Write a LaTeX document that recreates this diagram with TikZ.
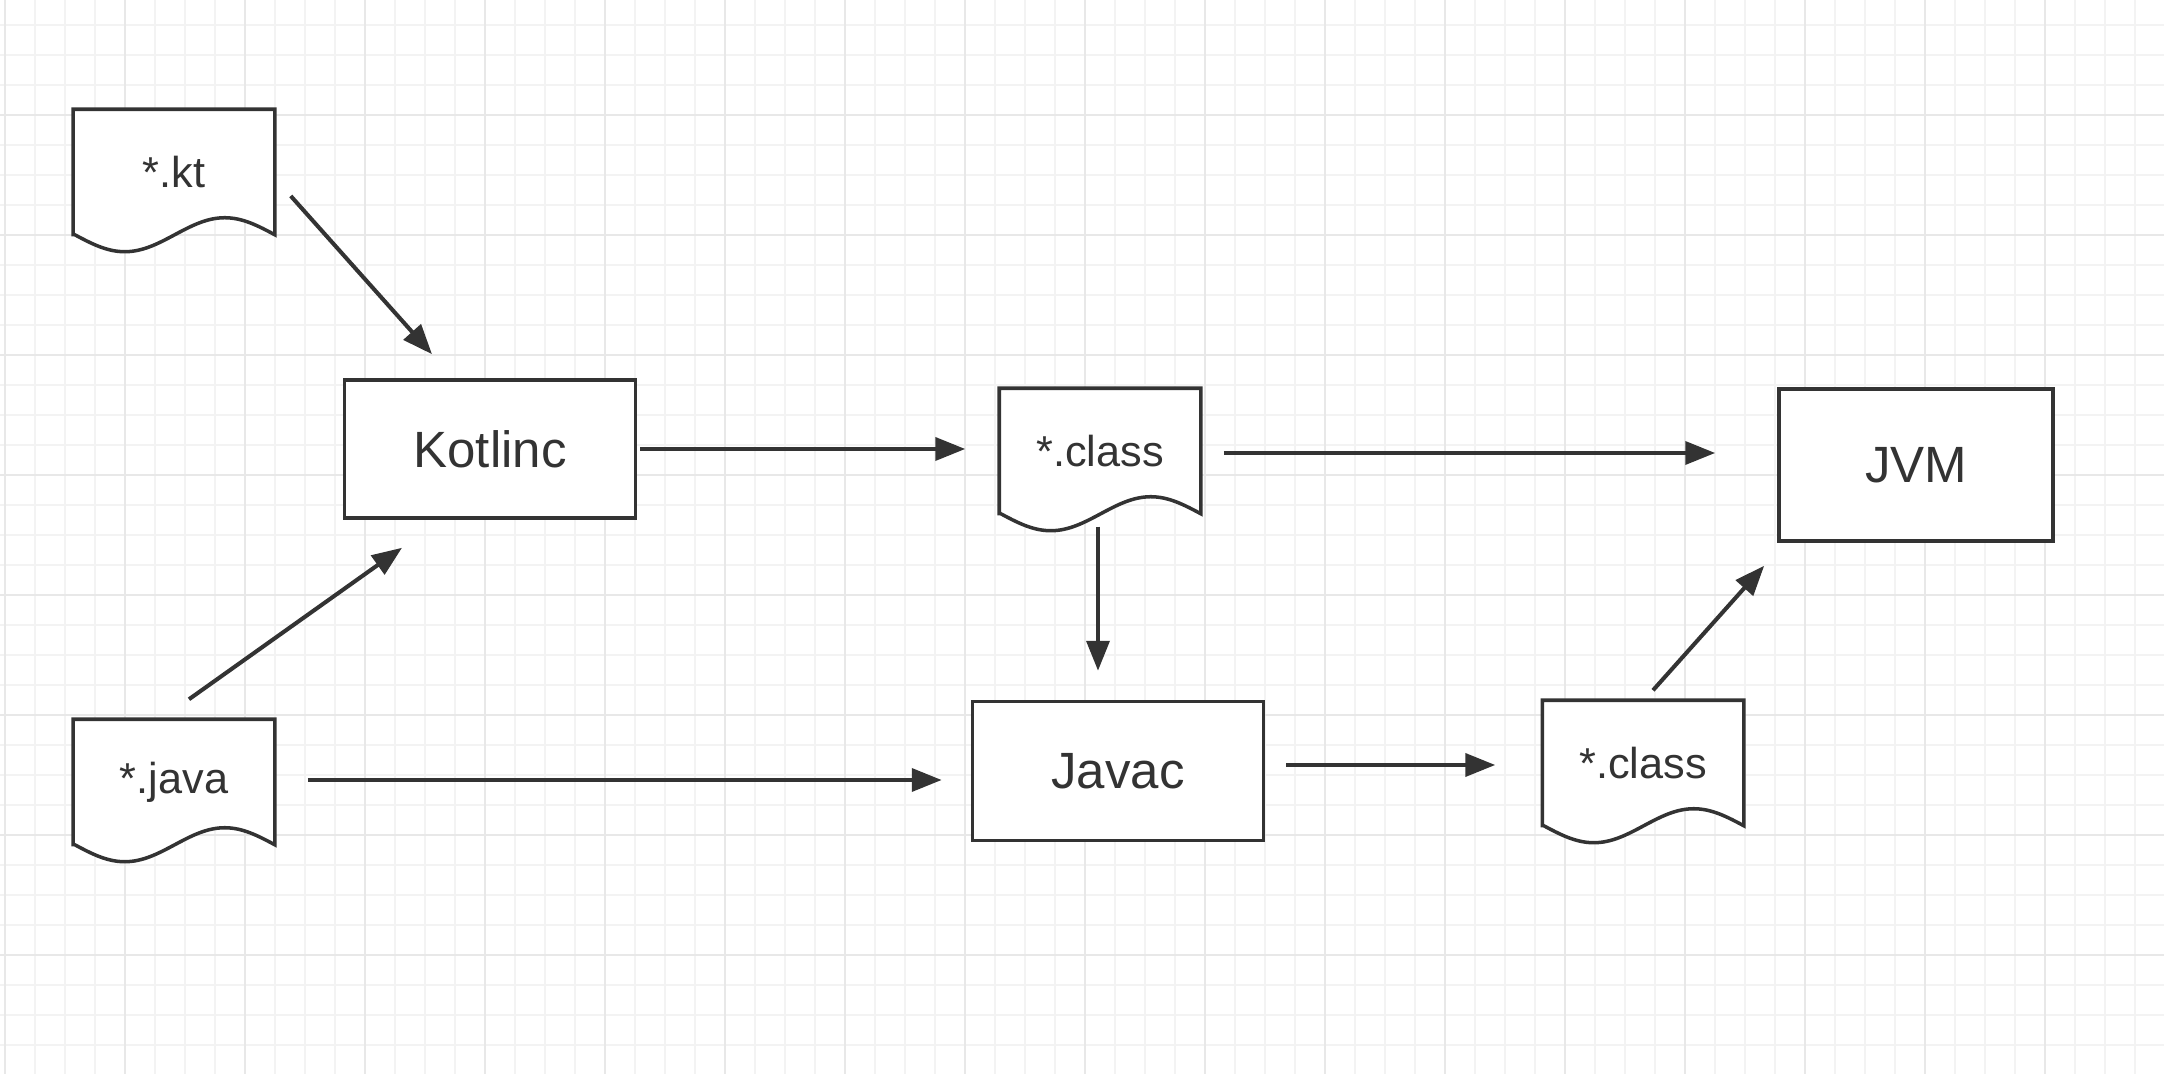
\documentclass[tikz,border=0pt]{standalone}
\usepackage{fontspec}
\setmainfont{Liberation Sans}
\usetikzlibrary{arrows.meta,backgrounds}
\definecolor{ink}{HTML}{333333}
\definecolor{gridminor}{HTML}{F3F3F3}
\definecolor{gridmajor}{HTML}{E8E8E8}
\begin{document}
\begin{tikzpicture}[x=0.01cm, y=-0.01cm,
block/.style = {rectangle, draw=ink, fill=white, line width=1pt, text=ink,
  font=\fontsize{14.5}{17}\selectfont},
doc/.style = {rectangle, inner sep=0pt, minimum width=2cm, minimum height=1.24cm,
  text=ink, font=\fontsize{12.3}{15}\selectfont},
docline/.style = {draw=ink, fill=white, line width=1pt, line join=miter},
flow/.style = {-{Triangle[length=8.5pt,width=6.5pt]}, draw=ink, line width=1.15pt}]
\useasboundingbox (0,0) rectangle (2164,1074);
\begin{scope}[on background layer]
  \fill[white] (0,0) rectangle (2164,1074);
  \foreach \gx in {5,35,...,2164} \draw[gridminor, line width=0.4pt] (\gx,0) -- (\gx,1074);
  \foreach \gy in {25,55,...,1074} \draw[gridminor, line width=0.4pt] (0,\gy) -- (2164,\gy);
  \foreach \gx in {5,125,...,2164} \draw[gridmajor, line width=0.7pt] (\gx,0) -- (\gx,1074);
  \foreach \gy in {115,235,...,1074} \draw[gridmajor, line width=0.7pt] (0,\gy) -- (2164,\gy);
\end{scope}
% sources
\node[doc] at (174,172) (kt) {*.kt};
\node[doc] at (174,782) (java) {*.java};
% compilers
\node[block, minimum width=2.91cm, minimum height=1.38cm] at (490,449) (kotlinc) {Kotlinc};
\node[block, minimum width=2.91cm, minimum height=1.39cm] at (1118,771) (javac) {Javac};
% outputs
\node[doc] at (1100,451) (clsa) {*.class};
\node[doc] at (1643,763) (clsb) {*.class};
\node[block, minimum width=2.74cm, minimum height=1.52cm] at (1916,465) (jvm) {JVM};
\begin{scope}[on background layer]
  \foreach \d in {kt,java,clsa,clsb}
    \draw[docline] (\d.south west) -- (\d.north west) -- (\d.north east) -- (\d.south east)
      sin ++(-50,-17) cos ++(-50,17) sin ++(-50,17) cos ++(-50,-17) -- cycle;
\end{scope}
\draw [flow] ([shift={(16,24)}]kt.east) -- ([shift={(-58,-24)}]kotlinc.north);
\draw [flow] ([shift={(15,-20)}]java.north) -- ([shift={(-88,28)}]kotlinc.south);
\draw [flow] ([shift={(33,-2)}]java.east) -- ([shift={(-29,9)}]javac.west);
\draw [flow] ([shift={(3,0)}]kotlinc.east) -- ([shift={(-34,-2)}]clsa.west);
\draw [flow] ([shift={(23,2)}]clsa.east) -- ([shift={(-62,-12)}]jvm.west);
\draw [flow] ([shift={(-2,13)}]clsa.south) -- ([shift={(-20,-29)}]javac.north);
\draw [flow] ([shift={(21,-6)}]javac.east) -- ([shift={(-47,2)}]clsb.west);
\draw [flow] ([shift={(10,-10)}]clsb.north) -- ([shift={(-13,23)}]jvm.south west);
\end{tikzpicture}
\end{document}
